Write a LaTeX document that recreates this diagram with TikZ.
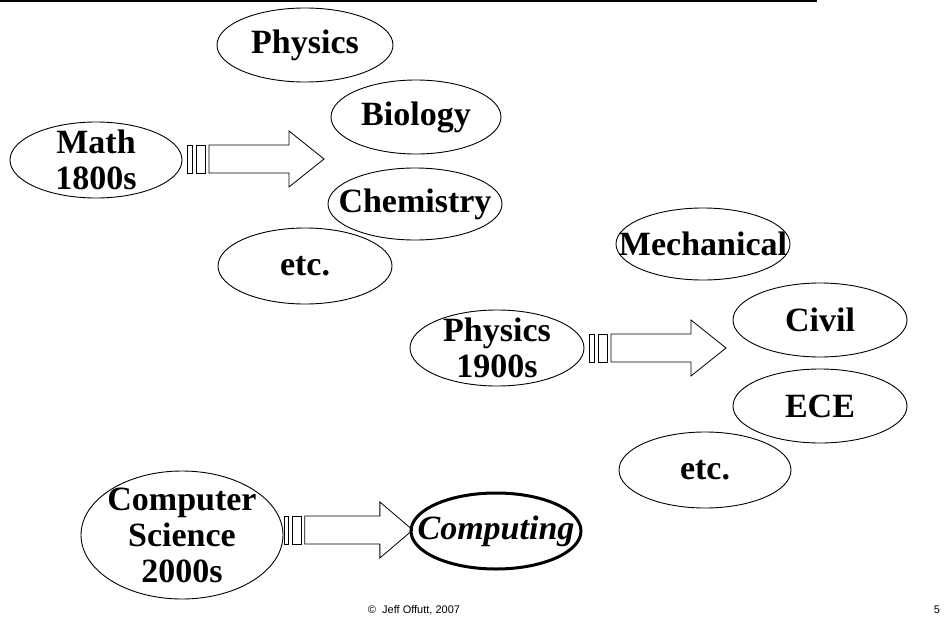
\documentclass[tikz,border=0pt]{standalone}
\usepackage{fontspec}
\setmainfont{Liberation Serif}
\setsansfont{Liberation Sans}
\usetikzlibrary{calc}

\tikzset{
  word/.style={align=center, inner sep=0pt, font=\fontsize{34}{36}\selectfont\bfseries},
  ring/.style={line width=0.9pt},
  fatarrow/.pic={
    \draw[line width=0.8pt] (0,-14) rectangle (5,14);
    \draw[line width=0.8pt] (9,-14) rectangle (18,14);
    \draw[line width=0.8pt] (22,-14) -- (102,-14) -- (102,-28) -- (137,0)
      -- (102,28) -- (102,14) -- (22,14) -- cycle;
  }
}

\begin{document}
\begin{tikzpicture}[x=1pt,y=-1pt]
			\useasboundingbox (0,0) rectangle (946,627);
			\draw[line width=2pt] (0,1) -- (817,1);
			% math, 1800s
			\node[word] (physA) at (305,45) {Physics};
			\draw[ring] (physA.center) ellipse [x radius=88, y radius=37];
			\node[word] (bio) at (416,117) {Biology};
			\draw[ring] (bio.center) ellipse [x radius=85, y radius=37];
			\node[word] (chem) at (415,204) {Chemistry};
			\draw[ring] (chem.center) ellipse [x radius=87, y radius=36];
			\node[word] (etcA) at (305,266) {etc.};
			\draw[ring] (etcA.center) ellipse [x radius=87, y radius=38];
			\node[word] (math) at (96,160) {Math\\1800s};
			\draw[ring] (math.center) ellipse [x radius=86, y radius=38];
			\pic at ($(math.center)+(91,-1)$) {fatarrow};
			% physics, 1900s
			\node[word] (mech) at (703,244) {Mechanical};
			\draw[ring] (mech.center) ellipse [x radius=87, y radius=36];
			\node[word] (civil) at (820,320) {Civil};
			\draw[ring] (civil.center) ellipse [x radius=87, y radius=37];
			\node[word] (ece) at (820,406) {ECE};
			\draw[ring] (ece.center) ellipse [x radius=87, y radius=37];
			\node[word] (etcB) at (705,470) {etc.};
			\draw[ring] (etcB.center) ellipse [x radius=86, y radius=38];
			\node[word] (physB) at (497,348) {Physics\\1900s};
			\draw[ring] (physB.center) ellipse [x radius=87, y radius=38];
			\pic at ($(physB.center)+(92,0)$) {fatarrow};
			% computer science, 2000s
			\node[word] (cs) at (182,535) {Computer\\Science\\2000s};
			\draw[ring] (cs.center) ellipse [x radius=101, y radius=64];
			\node[word, font=\fontsize{34}{36}\selectfont\bfseries\itshape] (comp) at (496,531) {Computing};
			\draw[line width=3pt] (comp.center) ellipse [x radius=85, y radius=38];
			\pic[xscale=0.94] at ($(cs.center)+(102,-5)$) {fatarrow};
			% footer
			\node[font=\sffamily\fontsize{11}{13}\selectfont] (credit) at (414,610) {©\ \ Jeff Offutt, 2007};
			\node[font=\sffamily\fontsize{11}{13}\selectfont] (pageno) at (937,610) {5};
		\end{tikzpicture}
\end{document}
